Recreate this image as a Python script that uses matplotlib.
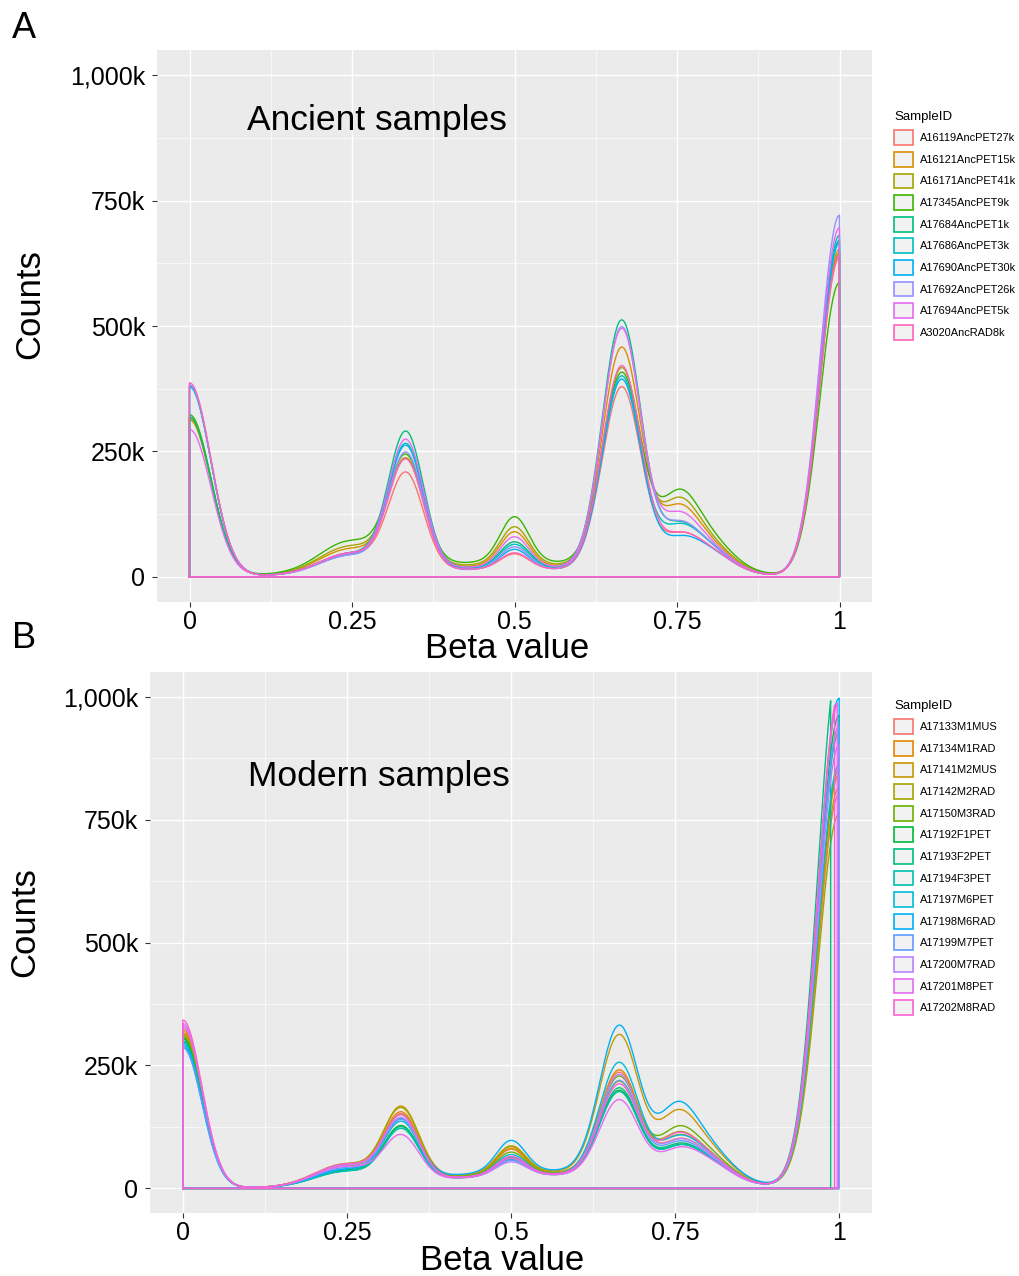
import numpy as np
import matplotlib.pyplot as plt
from matplotlib.patches import Patch
from matplotlib.ticker import FuncFormatter

plt.rcParams['font.family'] = ['Liberation Sans', 'DejaVu Sans']

# density components: peak heights (k counts) for each sample
# component centres on the beta scale (0, 1/4, 1/3, 1/2, 2/3, 3/4 shoulder, tail, 1)
centers = [0.0, 0.245, 0.333, 0.5, 0.665, 0.75, 0.79, 1.0]

# ---- panel A: ancient samples ----
anc_ids = ['A16119AncPET27k', 'A16121AncPET15k', 'A16171AncPET41k', 'A17345AncPET9k',
           'A17684AncPET1k', 'A17686AncPET3k', 'A17690AncPET30k', 'A17692AncPET26k',
           'A17694AncPET5k', 'A3020AncRAD8k']
anc_colors = ['#F8766D', '#D89000', '#A3A500', '#39B600', '#00BF7D',
              '#00BFC4', '#00B0F6', '#9590FF', '#E76BF3', '#FF62BC']
anc_h0 = [380, 312, 315, 322, 318, 378, 380, 382, 293, 386]
anc_h25 = [40, 46, 50, 58, 38, 38, 36, 36, 37, 40]
anc_h33 = [192, 215, 212, 215, 271, 248, 246, 233, 255, 218]
anc_h50 = [30, 68, 75, 90, 50, 47, 39, 45, 60, 32]
anc_h67 = [367, 441, 398, 385, 497, 387, 382, 487, 480, 409]
anc_h75 = [45, 90, 100, 108, 60, 58, 38, 64, 78, 45]
anc_h80 = [50, 62, 66, 75, 55, 55, 50, 55, 58, 50]
anc_h100 = [635, 652, 645, 585, 670, 680, 665, 720, 695, 640]
anc_bg = [16, 22, 25, 30, 20, 18, 16, 15, 20, 16]
anc_xmax = [1.0] * 10

# ---- panel B: modern samples ----
mod_ids = ['A17133M1MUS', 'A17134M1RAD', 'A17141M2MUS', 'A17142M2RAD', 'A17150M3RAD',
           'A17192F1PET', 'A17193F2PET', 'A17194F3PET', 'A17197M6PET', 'A17198M6RAD',
           'A17199M7PET', 'A17200M7RAD', 'A17201M8PET', 'A17202M8RAD']
mod_colors = ['#F8766D', '#E58700', '#C99800', '#A3A500', '#6BB100', '#00BA38', '#00BF7D',
              '#00C0AF', '#00BCD8', '#00B0F6', '#619CFF', '#B983FF', '#E76BF3', '#FD61D1']
mod_h0 = [325, 320, 315, 312, 308, 305, 300, 298, 295, 290, 286, 330, 335, 342]
mod_h25 = [38, 40, 40, 42, 38, 30, 28, 28, 32, 30, 35, 40, 38, 42]
mod_h33 = [132, 135, 145, 143, 130, 110, 108, 105, 118, 120, 122, 125, 91, 130]
mod_h50 = [51, 51, 54, 54, 45, 37, 35, 33, 41, 63, 30, 27, 35, 37]
mod_h67 = [211, 215, 284, 191, 203, 176, 181, 174, 232, 301, 196, 208, 158, 188]
mod_h75 = [47, 52, 90, 58, 66, 39, 42, 39, 52, 102, 45, 47, 36, 58]
mod_h80 = [55, 58, 75, 58, 65, 50, 50, 50, 58, 80, 52, 55, 48, 58]
mod_h100 = [800, 840, 814, 760, 851, 960, 1075, 926, 861, 995, 938, 900, 990, 1005]
mod_bg = [30, 31, 34, 32, 30, 28, 28, 27, 29, 36, 28, 28, 27, 29]
mod_xmax = [1, 1, 1, 1, 1, 1, 0.987, 1, 1, 1, 1, 1, 0.997, 0.993]

x_ticks = [0, 0.25, 0.5, 0.75, 1]
x_ticklabels = ['0', '0.25', '0.5', '0.75', '1']
y_ticks = [0, 250000, 500000, 750000, 1000000]


def density(x, heights, widths, bg, bg_c, bg_s):
    y = bg * np.exp(-(x - bg_c) ** 2 / (2 * bg_s ** 2))
    for c, h, s in zip(centers, heights, widths):
        y = y + h * np.exp(-(x - c) ** 2 / (2 * s ** 2))
    return y * 1000


def kfmt(v, pos):
    if v == 0:
        return '0'
    return '{:,.0f}k'.format(v / 1000)


def panel(ax, ids, colors, comps, bg, xmax, widths, bg_c, bg_s, title, title_xy):
    ax.set_facecolor('#EBEBEB')
    for i in range(len(ids)):
        x = np.linspace(0, xmax[i], 800)
        y = density(x, [c[i] for c in comps], widths, bg[i], bg_c, bg_s)
        px = np.concatenate([[0], x, [xmax[i], 0]])
        py = np.concatenate([[0], y, [0, 0]])
        ax.plot(px, py, color=colors[i], lw=1.0, zorder=3)
    ax.set_xlim(-0.05, 1.05)
    ax.set_ylim(-50000, 1050000)
    ax.set_xticks(x_ticks)
    ax.set_xticklabels(x_ticklabels)
    ax.set_xticks([0.125, 0.375, 0.625, 0.875], minor=True)
    ax.set_yticks(y_ticks)
    ax.set_yticks([125000, 375000, 625000, 875000], minor=True)
    ax.yaxis.set_major_formatter(FuncFormatter(kfmt))
    ax.grid(which='major', color='white', lw=1.0, zorder=0)
    ax.grid(which='minor', color='white', lw=0.45, zorder=0)
    ax.set_axisbelow(True)
    for s in ax.spines.values():
        s.set_visible(False)
    ax.tick_params(which='major', length=3.5, color='#333333', labelsize=18, pad=5)
    ax.tick_params(axis='x', which='major', pad=2.5)
    ax.tick_params(which='minor', length=0)
    ax.text(title_xy[0], title_xy[1], title, fontsize=25.5, ha='left', va='center')
    handles = [Patch(facecolor='#F2F2F2', edgecolor=c, lw=1.2) for c in colors]
    return handles


fig = plt.figure(figsize=(10.19, 12.76), dpi=100)
W, H = 1019, 1276

axA = fig.add_axes([157 / W, 1 - 602 / H, 715 / W, 552 / H])
hA = panel(axA, anc_ids, anc_colors,
           [anc_h0, anc_h25, anc_h33, anc_h50, anc_h67, anc_h75, anc_h80, anc_h100],
           anc_bg, anc_xmax, [0.033, 0.045, 0.027, 0.022, 0.03, 0.028, 0.04, 0.03],
           0.5, 0.2, 'Ancient samples', (0.088, 910000))

axB = fig.add_axes([150 / W, 1 - 1213 / H, 722 / W, 541 / H])
hB = panel(axB, mod_ids, mod_colors,
           [mod_h0, mod_h25, mod_h33, mod_h50, mod_h67, mod_h75, mod_h80, mod_h100],
           mod_bg, mod_xmax, [0.029, 0.045, 0.027, 0.022, 0.03, 0.028, 0.04, 0.032],
           0.55, 0.18, 'Modern samples', (0.1, 838000))

for handles, ids, top in [(hA, anc_ids, 106), (hB, mod_ids, 695)]:
    leg = fig.legend(handles, ids, title='SampleID', loc='upper left',
                     bbox_to_anchor=(889 / W, 1 - top / H), frameon=False,
                     fontsize=7.9, title_fontsize=9.5, handlelength=1.7, handleheight=1.7,
                     labelspacing=0.62, handletextpad=0.6, borderpad=0, alignment='left')

# axis titles and panel letters
fig.text(30 / W, 1 - 304 / H, 'Counts', rotation=90, fontsize=25, ha='center', va='center')
fig.text(507 / W, 1 - 649 / H, 'Beta value', fontsize=25, ha='center', va='center')
fig.text(25 / W, 1 - 922 / H, 'Counts', rotation=90, fontsize=25, ha='center', va='center')
fig.text(502 / W, 1 - 1260 / H, 'Beta value', fontsize=25, ha='center', va='center')
fig.text(12 / W, 1 - 28 / H, 'A', fontsize=26, ha='left', va='center')
fig.text(12 / W, 1 - 638 / H, 'B', fontsize=26, ha='left', va='center')

fig.savefig('out.png', dpi=100)
